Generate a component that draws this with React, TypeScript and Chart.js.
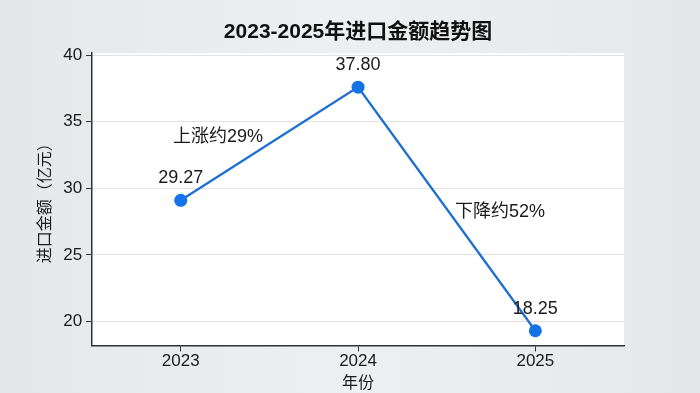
import React, { useEffect, useRef } from "react";
import { Chart, registerables } from "chart.js";

Chart.register(...registerables);

const years = ["2023", "2024", "2025"];
const amounts = [29.1, 37.6, 19.3];
const valueLabels = ["29.27", "37.80", "18.25"];
const yTicks = [20, 25, 30, 35, 40];
const notes = [
  { text: "上涨约29%", x: 0.21, y: 33.85 },
  { text: "下降约52%", x: 1.8, y: 28.25 },
];

const FONT = "'Liberation Sans', 'Noto Sans CJK SC', sans-serif";

const bgPlugin = {
  id: "areaBg",
  beforeDraw(chart: any) {
    const { ctx, chartArea } = chart;
    ctx.save();
    ctx.fillStyle = "#ffffff";
    ctx.fillRect(chartArea.left, chartArea.top, chartArea.right - chartArea.left, chartArea.bottom - chartArea.top);
    ctx.restore();
  },
};

const labelPlugin = {
  id: "labels",
  afterDatasetsDraw(chart: any) {
    const { ctx } = chart;
    const xs = chart.scales.x;
    const ys = chart.scales.y;
    ctx.save();
    ctx.font = `18px ${FONT}`;
    ctx.fillStyle = "#1a1a1a";
    ctx.textAlign = "center";
    ctx.textBaseline = "middle";
    amounts.forEach((v, i) => {
      const px = xs.getPixelForValue(i);
      const py = ys.getPixelForValue(v);
      ctx.fillText(valueLabels[i], px, py - 22);
    });
    notes.forEach((n) => {
      ctx.fillText(n.text, xs.getPixelForValue(n.x), ys.getPixelForValue(n.y));
    });
    ctx.restore();
  },
};

export default function App() {
  const ref = useRef<HTMLCanvasElement>(null);
  useEffect(() => {
    if (!ref.current) return;
    const chart = new Chart(ref.current, {
      type: "line",
      data: {
        labels: years,
        datasets: [
          {
            data: amounts,
            borderColor: "#1f6fd1",
            borderWidth: 2.3,
            pointRadius: 6.5,
            pointBackgroundColor: "#1473e6",
            pointBorderColor: "#1473e6",
            pointBorderWidth: 0,
            tension: 0,
          },
        ],
      },
      options: {
        animation: false,
        responsive: false,
        maintainAspectRatio: false,
        layout: { padding: { left: 27, right: 76, top: 0, bottom: 0 } },
        plugins: {
          legend: { display: false },
          tooltip: { enabled: false },
          title: {
            display: true,
            text: "2023-2025年进口金额趋势图",
            fullSize: false,
            color: "#111",
            font: { family: FONT, size: 21, weight: "bold" },
            padding: { top: 20, bottom: 8 },
          },
        },
        scales: {
          x: {
            offset: true,
            grid: { display: true, drawOnChartArea: false, drawTicks: true, tickLength: 6, tickColor: "#333", offset: false },
            border: { color: "#333", width: 1.5 },
            ticks: { color: "#1a1a1a", font: { family: FONT, size: 17 }, padding: 0 },
            title: {
              display: true,
              text: "年份",
              color: "#1a1a1a",
              font: { family: FONT, size: 16 },
              padding: { top: 2, bottom: 0 },
            },
          },
          y: {
            min: 18.2,
            max: 40.15,
            afterBuildTicks: (scale: any) => {
              scale.ticks = yTicks.map((v) => ({ value: v }));
            },
            grid: { color: "#e2e2e2", lineWidth: 1, tickLength: 6, tickColor: "#333" },
            border: { color: "#333", width: 1.5 },
            ticks: { color: "#1a1a1a", font: { family: FONT, size: 17 }, padding: 4 },
            title: {
              display: true,
              text: "进口金额（亿元）",
              color: "#1a1a1a",
              font: { family: FONT, size: 16 },
              padding: { top: 9, bottom: 4 },
            },
          },
        },
      },
      plugins: [bgPlugin, labelPlugin],
    });
    return () => chart.destroy();
  }, []);
  return (
    <div style={{ position: "fixed", left: 0, top: 0, width: 700, height: 393, background: "linear-gradient(90deg, #e6e7e8 0%, #eeeff0 50%, #e6e7e8 100%)" }}>
      <canvas ref={ref} width={700} height={393} style={{ display: "block" }} />
    </div>
  );
}
